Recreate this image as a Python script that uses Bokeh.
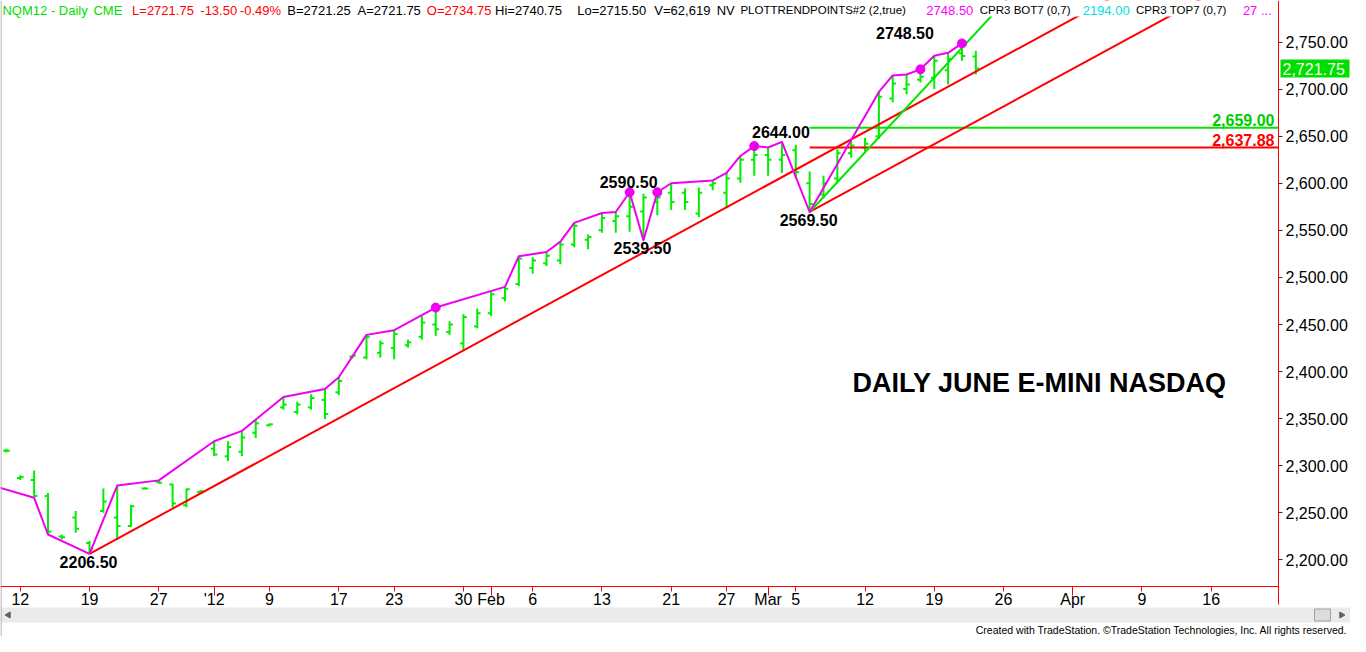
import numpy as np
import pandas as pd
from bokeh.plotting import figure
from bokeh.models import ColumnDataSource, FixedTicker, NumeralTickFormatter, Range1d, LinearAxis
from bokeh.embed import file_html
from bokeh.resources import INLINE
from bokeh.core.properties import value

# ---------------- data ----------------
holidays = ["2011-12-26", "2012-01-02", "2012-01-16", "2012-02-20"]
calendar = [d.strftime("%Y-%m-%d") for d in pd.bdate_range("2011-12-09", "2012-04-20")
            if d.strftime("%Y-%m-%d") not in holidays]

# daily OHLC, NQM12, 2011-12-09 .. 2012-03-22
opens = [2316, 2287, 2285, 2268, 2225, 2245, 2218, 2252, 2245, 2236,
         2276, 2283, 2280, 2258, 2272, 2318, 2310, 2315, 2335, 2343,
         2362, 2357, 2362, 2370, 2378, 2416, 2415, 2420, 2425, 2428,
         2437, 2450, 2442, 2430, 2448, 2462, 2478, 2493, 2510, 2515,
         2518, 2535, 2540, 2550, 2560, 2565, 2570, 2580, 2590, 2590,
         2568, 2598, 2590, 2605, 2625, 2630, 2625, 2635, 2600, 2588,
         2605, 2632, 2638, 2650, 2690, 2700, 2710, 2712, 2720, 2738, 2734.75]
highs = [2318, 2290, 2295, 2271, 2227, 2252, 2220, 2276, 2279, 2258.5,
         2277, 2284.5, 2281, 2276, 2274, 2326, 2326, 2337, 2349, 2345,
         2373, 2368, 2376, 2381.5, 2394, 2418, 2439, 2433, 2444, 2434,
         2459, 2468, 2453.5, 2461, 2467, 2485, 2490, 2522.5, 2521.5, 2527,
         2538, 2558, 2545.5, 2568.5, 2569.5, 2590.5, 2589, 2590.5, 2600, 2594.5,
         2595.5, 2603, 2611, 2629, 2639.5, 2638, 2644, 2641, 2612.5, 2608,
         2636, 2644.5, 2648, 2697, 2714.5, 2715.5, 2721, 2735.5, 2738.5, 2748.5, 2740.75]
lows = [2314, 2285, 2266, 2227, 2222, 2229, 2206.5, 2250, 2222, 2235.5,
        2275, 2281, 2256, 2256, 2271, 2310.5, 2305, 2310.5, 2329.5, 2342,
        2359.5, 2354.5, 2359.5, 2349.5, 2375, 2414, 2413, 2415, 2413, 2425.5,
        2434, 2438, 2439, 2423, 2446, 2459, 2474.5, 2491, 2504, 2512,
        2514, 2532, 2530, 2547.5, 2547.5, 2548.5, 2539.5, 2566, 2571.5, 2571.5,
        2564, 2592.5, 2573.5, 2600.5, 2608, 2608, 2611, 2605, 2569.5, 2584,
        2600, 2627, 2634, 2647, 2686, 2694.5, 2707, 2700, 2705, 2730, 2715.5]
closes = [2316, 2288, 2268, 2230, 2224, 2233, 2212, 2262, 2236, 2257,
          2276, 2282, 2260, 2275, 2273, 2312, 2320, 2330, 2345, 2344,
          2365, 2365, 2372, 2355, 2390, 2417, 2437, 2430, 2440, 2431,
          2452, 2445, 2450, 2458, 2462, 2482, 2488, 2520, 2518, 2523,
          2535, 2555, 2543, 2563, 2565, 2575, 2585, 2585, 2580, 2580,
          2590, 2600, 2605, 2625, 2630, 2625, 2630, 2612, 2578, 2600,
          2632, 2640, 2642, 2692, 2706, 2705, 2713, 2730, 2732, 2735.25, 2721.75]

# trend-points zigzag (bar index, H/L), plus the value it comes from off-chart
trend_prior = (-1, 2279.0)
trend_idx = [2, 3, 6, 8, 11, 15, 17, 20, 23, 24, 26, 28, 31, 36, 37, 39, 40, 41, 43, 44,
             45, 46, 47, 48, 51, 52, 53, 54, 55, 56, 58, 63, 64, 65, 66, 67, 68, 69]
trend_side = "LLLHHHHHHHHHHHHHHHHHHLHHHHHHHHLHHHHHHH"
dot_idx = [31, 45, 47, 54, 66, 69]
pivot_idx = [6, 45, 46, 56, 58, 69]
pivot_side = ["L", "H", "L", "H", "L", "H"]

channel_anchor_idx = [6, 58]        # both anchored on bar lows
channel_slope = 8.0                 # points per bar
fast_anchor_idx = 58
fast_slope = 15.85
levels = [2659.00, 2637.88]
level_start_idx = 58

tick_dates = ["2011-12-12", "2011-12-19", "2011-12-27", "2012-01-03", "2012-01-09",
              "2012-01-17", "2012-01-23", "2012-01-30", "2012-02-01", "2012-02-06",
              "2012-02-13", "2012-02-21", "2012-02-27", "2012-03-01", "2012-03-05",
              "2012-03-12", "2012-03-19", "2012-03-26", "2012-04-02", "2012-04-09",
              "2012-04-16"]
tick_labels = ["12", "19", "27", "'12", "9", "17", "23", "30", "Feb", "6", "13", "21",
               "27", "Mar", "5", "12", "19", "26", "Apr", "9", "16"]
month_dates = ["2012-01-03", "2012-02-01", "2012-03-01", "2012-04-02"]
y_ticks = [2200, 2250, 2300, 2350, 2400, 2450, 2500, 2550, 2600, 2650, 2700, 2750]

bid, ask, volume = 2721.25, 2721.75, 62619
cpr_bot = 2194.00
chart_title = "DAILY JUNE E-MINI NASDAQ"
footer_text = "Created with TradeStation. \u00a9TradeStation Technologies, Inc. All rights reserved."

# ---------------- style / layout ----------------
BAR_GREEN = "#00ee00"
MAGENTA = "#f000f0"
RED = "#ff0000"
LINE_GREEN = "#00e600"
LEVEL_GREEN = "#00cc00"
FONT = "Liberation Sans"

W, H = 1350, 636
AXIS_PX, TOP_PX, BOTTOM_PX = 1278, 16, 586      # chart frame edges in canvas pixels
x_left, x_axis = -0.4286, 91.857                 # bar index at left edge / at price axis
p_top, p_bottom = 2777.1, 2171.8                 # price at top / bottom of chart area
sx = AXIS_PX / (x_axis - x_left)
sy = (BOTTOM_PX - TOP_PX) / (p_top - p_bottom)
REF_X = AXIS_PX / 1292.0
line_end_idx = 95


def X(px):
    return x_left + px / sx


def Y(row):
    return p_top + (TOP_PX - row) / sy


p = figure(width=W, height=H, x_range=Range1d(X(0), X(W)), y_range=Range1d(Y(H), Y(0)),
           x_axis_type=None, y_axis_type=None, output_backend="svg", toolbar_location=None,
           min_border=0, outline_line_color=None, background_fill_color="white",
           border_fill_color="white")

# ---- OHLC bars
xs = np.arange(len(closes))
bars = ColumnDataSource(dict(x=xs, xl=xs - 0.24, xr=xs + 0.24, o=opens, h=highs, l=lows, c=closes))
p.segment(x0="x", y0="l", x1="x", y1="h", source=bars, line_color=BAR_GREEN, line_width=2)
p.segment(x0="xl", y0="o", x1="x", y1="o", source=bars, line_color=BAR_GREEN, line_width=2)
p.segment(x0="x", y0="c", x1="xr", y1="c", source=bars, line_color=BAR_GREEN, line_width=2)

# ---- horizontal levels
p.segment(x0=[level_start_idx] * 2, y0=levels, x1=[x_axis] * 2, y1=levels,
          line_color=[LINE_GREEN, RED], line_width=2)

# ---- parallel red channel lines
ch_y0 = [lows[i] for i in channel_anchor_idx]
ch_y1 = [lows[i] + channel_slope * (line_end_idx - i) for i in channel_anchor_idx]
p.segment(x0=channel_anchor_idx, y0=ch_y0, x1=[line_end_idx] * 2, y1=ch_y1,
          line_color=RED, line_width=2)
# ---- fast green trend line
p.segment(x0=[fast_anchor_idx], y0=[lows[fast_anchor_idx]], x1=[line_end_idx],
          y1=[lows[fast_anchor_idx] + fast_slope * (line_end_idx - fast_anchor_idx)],
          line_color=LINE_GREEN, line_width=2)

# ---- magenta trend points zigzag
tx = [trend_prior[0]] + trend_idx
ty = [trend_prior[1]] + [highs[i] if s == "H" else lows[i] for i, s in zip(trend_idx, trend_side)]
p.line(x=tx, y=ty, line_color=MAGENTA, line_width=2, line_join="round")
p.scatter(x=dot_idx, y=[highs[i] for i in dot_idx], size=9, marker="circle",
          fill_color=MAGENTA, line_color=MAGENTA)

# ---- pivot value labels
piv_dx = [-1, -1, -1, -1, -1, -57]
piv_dy = {"L": 2, "H": -4}
for side, base in (("L", "top"), ("H", "bottom")):
    sel = [k for k, s in enumerate(pivot_side) if s == side]
    vals = [lows[pivot_idx[k]] if side == "L" else highs[pivot_idx[k]] for k in sel]
    p.text(x=[pivot_idx[k] for k in sel], y=vals, text=[f"{v:.2f}" for v in vals],
           x_offset=[piv_dx[k] for k in sel], y_offset=[piv_dy[side]] * len(sel),
           text_font=value(FONT), text_font_style="bold", text_font_size="16px",
           text_color="black", text_align="center", text_baseline=base)

# ---- level labels at right edge
p.text(x=[x_axis] * 2, y=levels, text=[f"{v:,.2f}" for v in levels],
       text_color=[LEVEL_GREEN, RED], x_offset=-4, y_offset=-2,
       text_font=value(FONT), text_font_style="bold", text_font_size="16px",
       text_align="right", text_baseline="bottom")

# ---- chart title
p.text(x=[74.6], y=[2388], text=[chart_title], text_font=value(FONT), text_font_style="bold",
       text_font_size="27px", text_color="black", text_align="center", text_baseline="middle")

# ---- white margins outside the chart area (header strip, price-axis strip, date strip)
p.quad(left=[X(0), X(AXIS_PX), X(0)], right=[X(W), X(W), X(W)],
       top=[Y(0), Y(0), Y(BOTTOM_PX)], bottom=[Y(TOP_PX), Y(H), Y(H)],
       fill_color="white", line_color=None)

# ---- header line
last, prev = closes[-1], closes[-2]
chg = last - prev
pct = chg / prev * 100
head_texts = ["NQM12 - Daily", "CME", f"L={last:.2f}", f"{chg:.2f}", f"{pct:.2f}%",
              f"B={bid:.2f}", f"A={ask:.2f}", f"O={opens[-1]:.2f}", f"Hi={highs[-1]:.2f}",
              f"Lo={lows[-1]:.2f}", f"V={volume:,}", "NV", "PLOTTRENDPOINTS#2 (2,true)",
              f"{max(highs):.2f}", "CPR3 BOT7 (0,7)", f"{cpr_bot:.2f}", "CPR3 TOP7 (0,7)", "27 ..."]
head_colors = ["#00dd00", "#00dd00", RED, RED, RED, "black", "black", RED, "black",
               "black", "black", "black", "black", "#ff00ff", "black", "#00e0e0", "black", "#ff00ff"]
head_ref_x = [2, 94, 133, 202, 242, 290, 361, 431, 500, 583, 661, 724, 748, 936, 990, 1094, 1148, 1256]
head_sizes = ["13px"] * 12 + ["11.5px", "13px", "11.5px", "13px", "11.5px", "13px"]
head_src = ColumnDataSource(dict(x=[X(v * REF_X) for v in head_ref_x], y=[Y(9.5)] * len(head_texts),
                                 text=head_texts, color=head_colors, size=head_sizes))
p.text(x="x", y="y", text="text", source=head_src, text_color="color", text_font_size="size",
       text_font=value(FONT), text_align="left", text_baseline="middle")

# ---- last price marker on the price axis
p.quad(left=[X(AXIS_PX + 2)], right=[X(W - 1)], top=[last + 9 / sy], bottom=[last - 9 / sy],
       fill_color="#00dd00", line_color=None)
p.text(x=[X(AXIS_PX + 4)], y=[last], text=[f"{last:,.2f}"], text_font=value(FONT),
       text_font_size="16px", text_color="#f4fff4", text_align="left", text_baseline="middle")

# ---- scrollbar strip + footer
p.quad(left=[X(0)], right=[X(W)], top=[Y(607)], bottom=[Y(622)], fill_color="#ebebeb", line_color=None)
p.quad(left=[X(W - 36)], right=[X(W - 20)], top=[Y(608.5)], bottom=[Y(620.5)],
       fill_color="#dcdcdc", line_color="#a0a0a0")
p.scatter(x=[X(8), X(W - 9)], y=[Y(614.5), Y(614.5)], marker="triangle",
          angle=[np.pi / 2, -np.pi / 2], size=6, fill_color="#606060", line_color="#606060")
p.text(x=[X(W - 3)], y=[Y(629.5)], text=[footer_text], text_font=value(FONT),
       text_font_size="10.5px", text_color="black", text_align="right", text_baseline="middle")
# thin window border on the left edge
p.segment(x0=[X(0.5)], y0=[Y(0)], x1=[X(0.5)], y1=[Y(H)], line_color="#a0a0a0", line_width=1)

# ---- axes (fixed at the chart edges)
xa = LinearAxis(fixed_location=p_bottom, bounds=(x_left, x_axis))
xa.ticker = FixedTicker(ticks=[calendar.index(d) for d in tick_dates],
                        minor_ticks=[calendar.index(d) for d in month_dates])
xa.major_label_overrides = {calendar.index(d): lab for d, lab in zip(tick_dates, tick_labels)}
xa.axis_line_color = RED
xa.major_tick_line_color = RED
xa.minor_tick_line_color = RED
xa.major_tick_out = 5
xa.major_tick_in = 0
xa.minor_tick_out = 9
xa.minor_tick_in = 0
xa.major_label_standoff = -5
xa.major_label_text_font = FONT
xa.major_label_text_font_size = "16px"
xa.major_label_text_color = "black"
p.add_layout(xa, "below")

ya = LinearAxis(fixed_location=x_axis, bounds=(Y(604), Y(0)))
ya.ticker = FixedTicker(ticks=y_ticks, minor_ticks=[])
ya.formatter = NumeralTickFormatter(format="0,0.00")
ya.axis_line_color = RED
ya.major_tick_line_color = "#333333"
ya.minor_tick_line_color = None
ya.major_tick_out = 4
ya.major_tick_in = 0
ya.major_label_standoff = 3
ya.major_label_text_font = FONT
ya.major_label_text_font_size = "16px"
ya.major_label_text_color = "black"
p.add_layout(ya, "right")

open("out.html", "w").write(file_html(p, INLINE))
